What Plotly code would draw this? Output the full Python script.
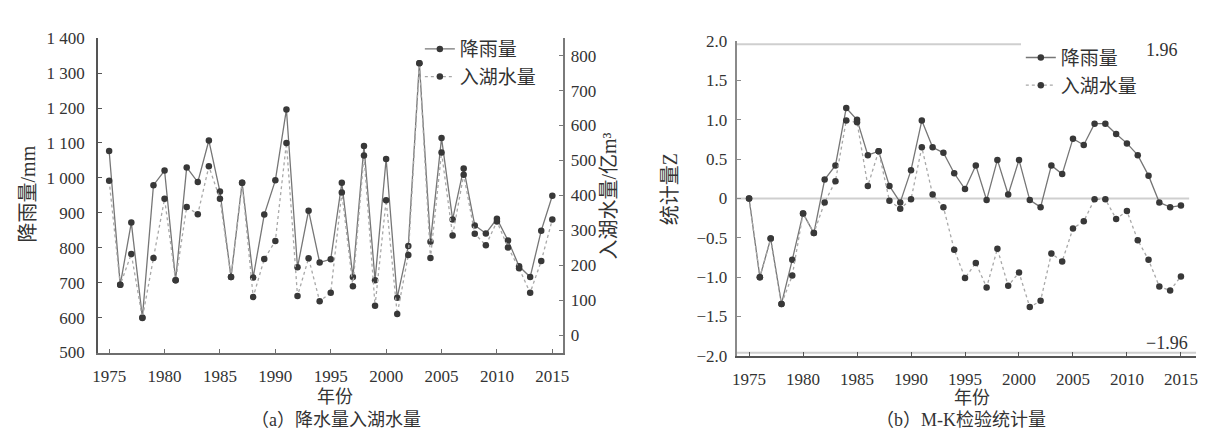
import plotly.graph_objects as go

# ---- data ----
years = list(range(1975, 2016))

# annual rainfall (mm)
rainfall_mm = [1077, 694, 872, 600, 979, 1021, 707, 1030, 988, 1107,
               961, 716, 986, 715, 895, 993, 1196, 744, 906, 758,
               767, 986, 716, 1091, 707, 1054, 657, 805, 1328, 817,
               1114, 881, 1027, 864, 841, 883, 821, 747, 716, 849, 949]

# annual lake inflow (1e8 m3)
inflow = [442, 144, 232, 49, 221, 390, 157, 367, 346, 483,
          390, 166, 436, 109, 218, 269, 550, 112, 220, 97,
          121, 408, 140, 514, 84, 386, 60, 229, 778, 221,
          523, 285, 459, 290, 257, 325, 251, 191, 121, 212, 331]

# Mann-Kendall UF statistic
uf_rainfall = [0.0, -1.0, -0.51, -1.34, -0.78, -0.19, -0.44, 0.24, 0.42, 1.15,
               1.0, 0.55, 0.60, 0.16, -0.05, 0.36, 0.99, 0.65, 0.58, 0.32,
               0.12, 0.42, -0.02, 0.49, 0.05, 0.49, -0.02, -0.11, 0.42, 0.31,
               0.76, 0.68, 0.95, 0.95, 0.82, 0.70, 0.55, 0.29, -0.05, -0.11, -0.09]
uf_inflow = [0.0, -1.0, -0.51, -1.34, -0.98, -0.19, -0.44, -0.05, 0.22, 0.99,
             0.97, 0.16, 0.60, -0.03, -0.13, -0.01, 0.65, 0.05, -0.11, -0.65,
             -1.01, -0.82, -1.13, -0.64, -1.11, -0.94, -1.38, -1.30, -0.70, -0.80,
             -0.38, -0.29, -0.01, -0.01, -0.26, -0.16, -0.53, -0.78, -1.12, -1.17, -0.99]

z_crit = 1.96

year_ticks = list(range(1975, 2016, 5))
year_ticktext = [str(v) for v in year_ticks]
rain_ticks = list(range(500, 1401, 100))
rain_ticktext = ["500", "600", "700", "800", "900", "1 000", "1 100", "1 200", "1 300", "1 400"]
inflow_ticks = list(range(0, 801, 100))
inflow_ticktext = [str(v) for v in inflow_ticks]
z_ticks = [2.0, 1.5, 1.0, 0.5, 0.0, -0.5, -1.0, -1.5, -2.0]
z_ticktext = ["2.0", "1.5", "1.0", "0.5", "0", "\u22120.5", "\u22121.0", "\u22121.5", "\u22122.0"]

name_rain = "降雨量"
name_inflow = "入湖水量"

# ---- style ----
W, H = 1207, 441
FONT = "Liberation Serif, Noto Sans CJK SC, serif"
TXT = "#333333"
MARK = "#383838"


def px(x):
    return x / W


def py(y):
    return 1 - y / H


fig = go.Figure()

fig.add_trace(go.Scatter(
    x=years, y=rainfall_mm, name=name_rain, mode="lines+markers",
    line=dict(color="#767676", width=1.3),
    marker=dict(color=MARK, size=6.5, symbol="circle"),
    xaxis="x", yaxis="y", legend="legend"))
fig.add_trace(go.Scatter(
    x=years, y=inflow, name=name_inflow, mode="lines+markers",
    line=dict(color="#a8a8a8", width=1.3, dash="dot"),
    marker=dict(color=MARK, size=6.5, symbol="circle"),
    xaxis="x", yaxis="y2", legend="legend"))
fig.add_trace(go.Scatter(
    x=years, y=uf_rainfall, name=name_rain, mode="lines+markers",
    line=dict(color="#767676", width=1.3),
    marker=dict(color=MARK, size=6.5, symbol="circle"),
    xaxis="x2", yaxis="y3", legend="legend2"))
fig.add_trace(go.Scatter(
    x=years, y=uf_inflow, name=name_inflow, mode="lines+markers",
    line=dict(color="#a8a8a8", width=1.3, dash="dot"),
    marker=dict(color=MARK, size=6.5, symbol="circle"),
    xaxis="x2", yaxis="y3", legend="legend2"))

tickfont = dict(family=FONT, size=17, color=TXT)
common = dict(showgrid=False, zeroline=False, showline=True, ticks="inside",
              ticklen=4, tickwidth=1.2, tickfont=tickfont)

fig.update_layout(
    width=W, height=H,
    margin=dict(l=0, r=0, t=0, b=0),
    paper_bgcolor="white", plot_bgcolor="white",
    font=dict(family=FONT, color=TXT),
    xaxis=dict(domain=[px(93), px(563)], range=[1974, 2016], anchor="y",
               tickvals=year_ticks, ticktext=year_ticktext,
               linecolor="#6e6e6e", linewidth=2, tickcolor="#6e6e6e",
               ticklabelstandoff=7, **common),
    yaxis=dict(domain=[py(359), py(30.5)], range=[500, 1400], anchor="x",
               tickvals=rain_ticks, ticktext=rain_ticktext,
               linecolor="#555555", linewidth=2, tickcolor="#555555",
               ticklabelstandoff=8, **common),
    yaxis2=dict(overlaying="y", side="right", anchor="x", range=[-50, 850],
                tickvals=inflow_ticks, ticktext=inflow_ticktext,
                linecolor="#7a7a7a", linewidth=2, tickcolor="#7a7a7a",
                ticklabelstandoff=2, **common),
    xaxis2=dict(domain=[px(738), px(1202)], range=[1973.85, 2016.4], anchor="y3",
                tickvals=year_ticks, ticktext=year_ticktext,
                linecolor="#555555", linewidth=2, tickcolor="#555555",
                ticklabelstandoff=7, **common),
    yaxis3=dict(domain=[py(362.5), py(33.5)], range=[-2, 2], anchor="x2",
                tickvals=z_ticks, ticktext=z_ticktext,
                linecolor="#8a8a8a", linewidth=2, tickcolor="#8a8a8a",
                ticklabelstandoff=4, **common),
    legend=dict(x=px(418), y=py(22), xanchor="left", yanchor="top",
                bgcolor="rgba(255,255,255,0)", borderwidth=0,
                font=dict(family=FONT, size=19, color=TXT),
                itemwidth=30, tracegroupgap=0),
    legend2=dict(x=px(1025), y=py(31), xanchor="left", yanchor="top",
                 bgcolor="white", borderwidth=0,
                 font=dict(family=FONT, size=19, color=TXT),
                 itemwidth=30, tracegroupgap=0),
)

# significance and zero reference lines for the M-K panel
for level, x1 in [(z_crit, 0.78), (0.0, 0.985), (-z_crit, 1.0)]:
    fig.add_shape(type="line", xref="x2 domain", yref="y3",
                  x0=0, x1=x1, y0=level, y1=level,
                  line=dict(color="#cfcfcf", width=2), layer="below")

title_font = dict(family=FONT, size=20, color=TXT)
small_title = dict(family=FONT, size=18, color=TXT)
ann = [
    dict(text="降雨量/mm", x=px(22), y=py(193), textangle=-90),
    dict(text="入湖水量/亿m³", x=px(609), y=py(195), textangle=-90),
    dict(text="统计量Z", x=px(671), y=py(188), textangle=-90),
    dict(text="年份", x=px(332), y=py(405), font=small_title),
    dict(text="年份", x=px(976), y=py(406), font=small_title),
    dict(text="（a）降水量入湖水量", x=px(333), y=py(429), font=small_title),
    dict(text="（b）M-K检验统计量", x=px(965), y=py(429), font=small_title),
    dict(text=f"{z_crit:.2f}", x=px(1168), y=py(43),
         font=dict(family=FONT, size=18, color=TXT)),
    dict(text=f"\u2212{z_crit:.2f}", x=px(1173), y=py(349),
         font=dict(family=FONT, size=18, color=TXT)),
]
for a in ann:
    a.setdefault("font", title_font)
    fig.add_annotation(xref="paper", yref="paper", showarrow=False,
                       xanchor="center", yanchor="middle", **a)

fig.write_html("out.html")
